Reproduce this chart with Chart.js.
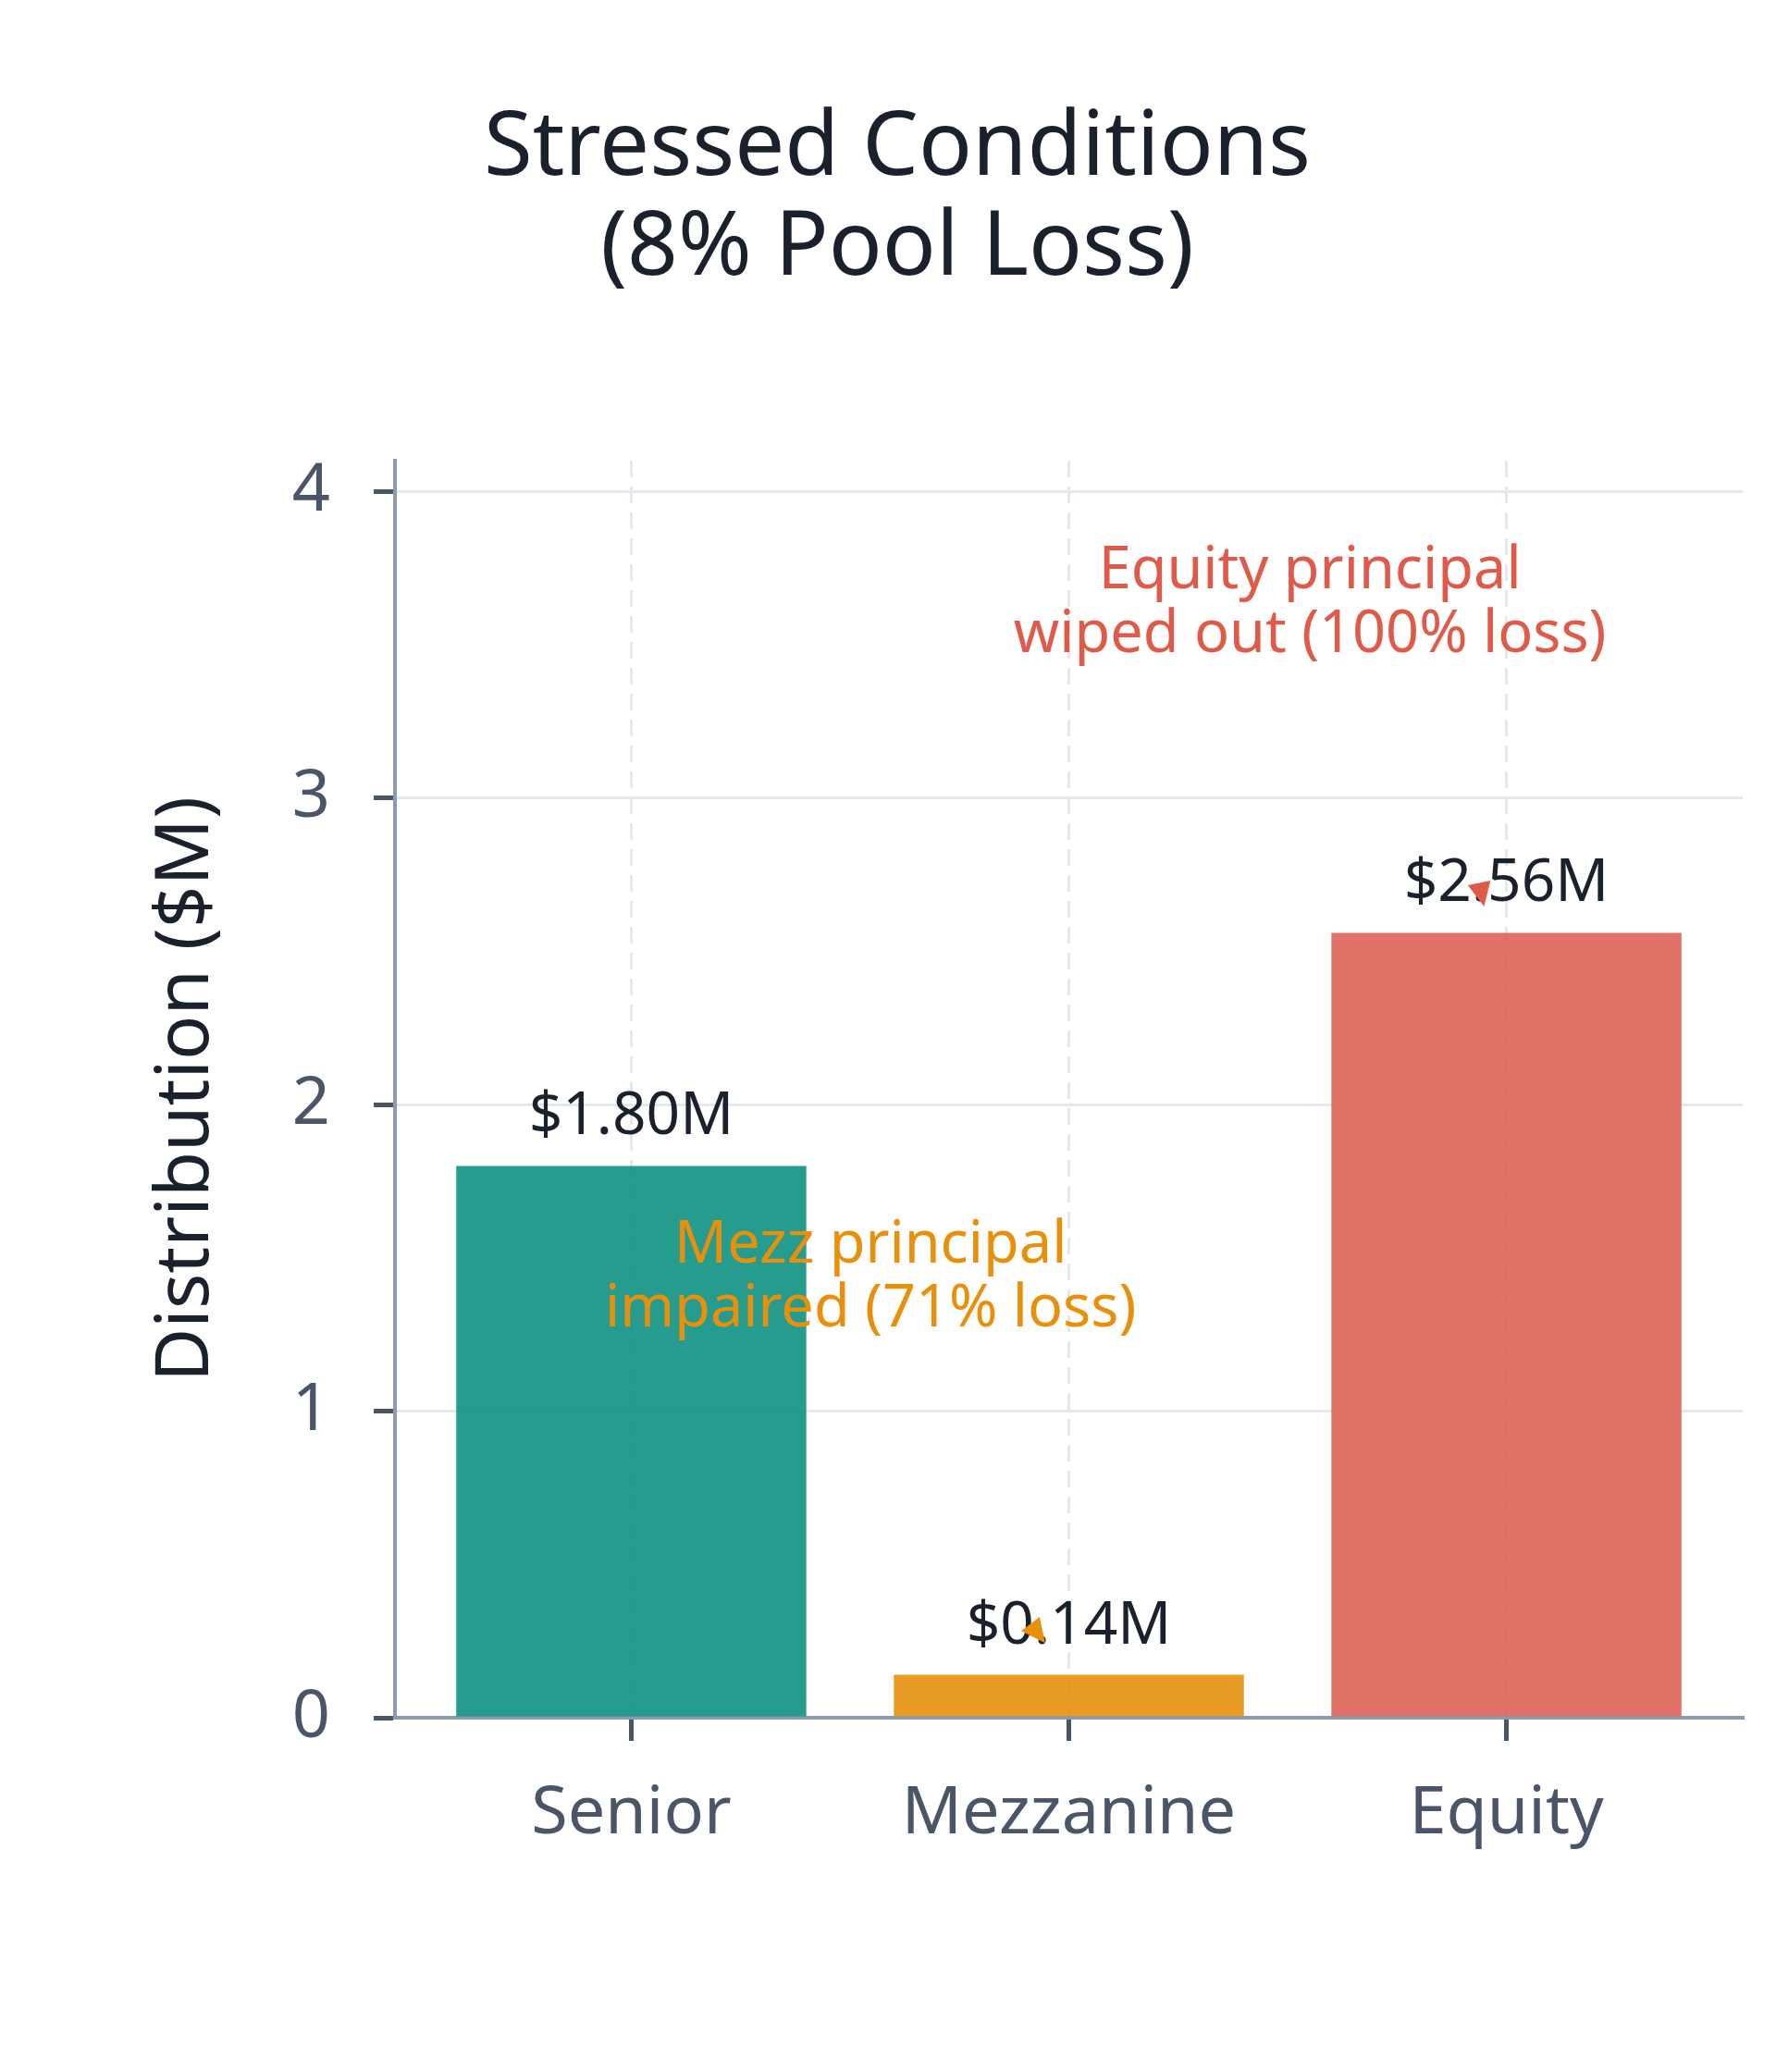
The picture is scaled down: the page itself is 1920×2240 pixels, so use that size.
<!DOCTYPE html>
<html>
<head>
<meta charset="utf-8">
<script src="https://cdn.jsdelivr.net/npm/chart.js@4.4.1/dist/chart.umd.min.js"></script>
<style>
  html, body { margin: 0; padding: 0; background: #fff; }
  #wrap { width: 1920px; height: 2240px; }
</style>
</head>
<body>
<div id="wrap"><canvas id="chart" width="1920" height="2240"></canvas></div>
<script>
const tranches = ['Senior', 'Mezzanine', 'Equity'];
const distribution = [1.80, 0.14, 2.56];
const valueLabels = ['$1.80M', '$0.14M', '$2.56M'];
const barColors = ['rgba(13,145,129,0.9)', 'rgba(229,145,14,0.9)', 'rgba(221,99,87,0.9)'];
const yTicks = [0, 1, 2, 3, 4];

// callouts: text centre, and arrow direction (from -> to) in data units
const noteLines = [['Equity principal', 'wiped out (100% loss)'], ['Mezz principal', 'impaired (71% loss)']];
const noteAt = [[1.551, 3.633], [0.547, 1.434]];
const arrowFrom = [[1.890, 3.045], [0.777, 0.554]];
const arrowTo = [[1.949, 2.646], [0.946, 0.244]];
const noteColors = ['#e05a4a', '#e8900c'];

const family = '"Noto Sans", "DejaVu Sans", sans-serif';
const ink = '#1a202c';
const slate = '#4a5568';

const notes = {
  id: 'notes',
  afterDatasetsDraw(chart) {
    const { ctx, scales: { x, y } } = chart;
    ctx.save();
    ctx.textAlign = 'center';

    ctx.font = `64px ${family}`;
    ctx.fillStyle = ink;
    ctx.textBaseline = 'alphabetic';
    distribution.forEach((v, i) => {
      ctx.fillText(valueLabels[i], x.getPixelForValue(i), y.getPixelForValue(v) - 34);
    });

    ctx.font = `63px ${family}`;
    ctx.textBaseline = 'middle';
    noteLines.forEach((lines, k) => {
      const cx = x.getPixelForValue(noteAt[k][0]);
      const cy = y.getPixelForValue(noteAt[k][1]);
      ctx.fillStyle = noteColors[k];
      lines.forEach((t, j) => ctx.fillText(t, cx, cy + (j - (lines.length - 1) / 2) * 69));

      const fx = x.getPixelForValue(arrowFrom[k][0]), fy = y.getPixelForValue(arrowFrom[k][1]);
      const tx = x.getPixelForValue(arrowTo[k][0]), ty = y.getPixelForValue(arrowTo[k][1]);
      const len = Math.hypot(tx - fx, ty - fy);
      const ux = (tx - fx) / len, uy = (ty - fy) / len;
      const bx = tx - ux * 26, by = ty - uy * 26;
      ctx.beginPath();
      ctx.moveTo(tx, ty);
      ctx.lineTo(bx - uy * 12.5, by + ux * 12.5);
      ctx.lineTo(bx + uy * 12.5, by - ux * 12.5);
      ctx.closePath();
      ctx.fill();
    });
    ctx.restore();
  }
};

new Chart(document.getElementById('chart').getContext('2d'), {
  type: 'bar',
  data: {
    datasets: [{
      data: tranches.map((t, i) => ({ x: i, y: distribution[i] })),
      backgroundColor: barColors,
      borderWidth: 0,
      barPercentage: 1,
      categoryPercentage: 0.8
    }]
  },
  options: {
    responsive: false,
    devicePixelRatio: 1,
    animation: false,
    layout: { padding: { left: 56, right: 36, top: 0, bottom: 0 } },
    plugins: {
      legend: { display: false },
      tooltip: { enabled: false },
      title: {
        display: true,
        text: ['Stressed Conditions', '(8% Pool Loss)'],
        color: ink,
        font: { family, size: 96, weight: 'normal', lineHeight: 1.12 },
        padding: { top: 108, bottom: 175 }
      }
    },
    scales: {
      x: {
        type: 'linear',
        min: -0.54,
        max: 2.54,
        offset: false,
        afterBuildTicks: s => { s.ticks = tranches.map((_, i) => ({ value: i })); },
        afterFit: s => { s.height = 383; },
        ticks: {
          callback: v => tranches[v],
          color: slate,
          font: { family, size: 72 },
          padding: 36,
          maxRotation: 0
        },
        grid: { offset: false, color: '#e3e7ee', lineWidth: 3, tickColor: slate, tickLength: 25, tickWidth: 5 },
        border: { color: '#8a9ab0', width: 4, dash: [18, 10] }
      },
      y: {
        min: 0,
        max: 4.1,
        afterBuildTicks: s => { s.ticks = yTicks.map(v => ({ value: v })); },
        afterFit: s => { s.width = 371; },
        ticks: { color: slate, font: { family, size: 72 }, padding: 47 },
        grid: { color: '#e3e7ee', lineWidth: 3, tickColor: slate, tickLength: 23, tickWidth: 5 },
        border: { color: '#8a9ab0', width: 4 },
        title: {
          display: true,
          text: 'Distribution ($M)',
          color: ink,
          font: { family, size: 80 },
          padding: { top: 98, bottom: 0 }
        }
      }
    }
  },
  plugins: [notes]
});
</script>
</body>
</html>
